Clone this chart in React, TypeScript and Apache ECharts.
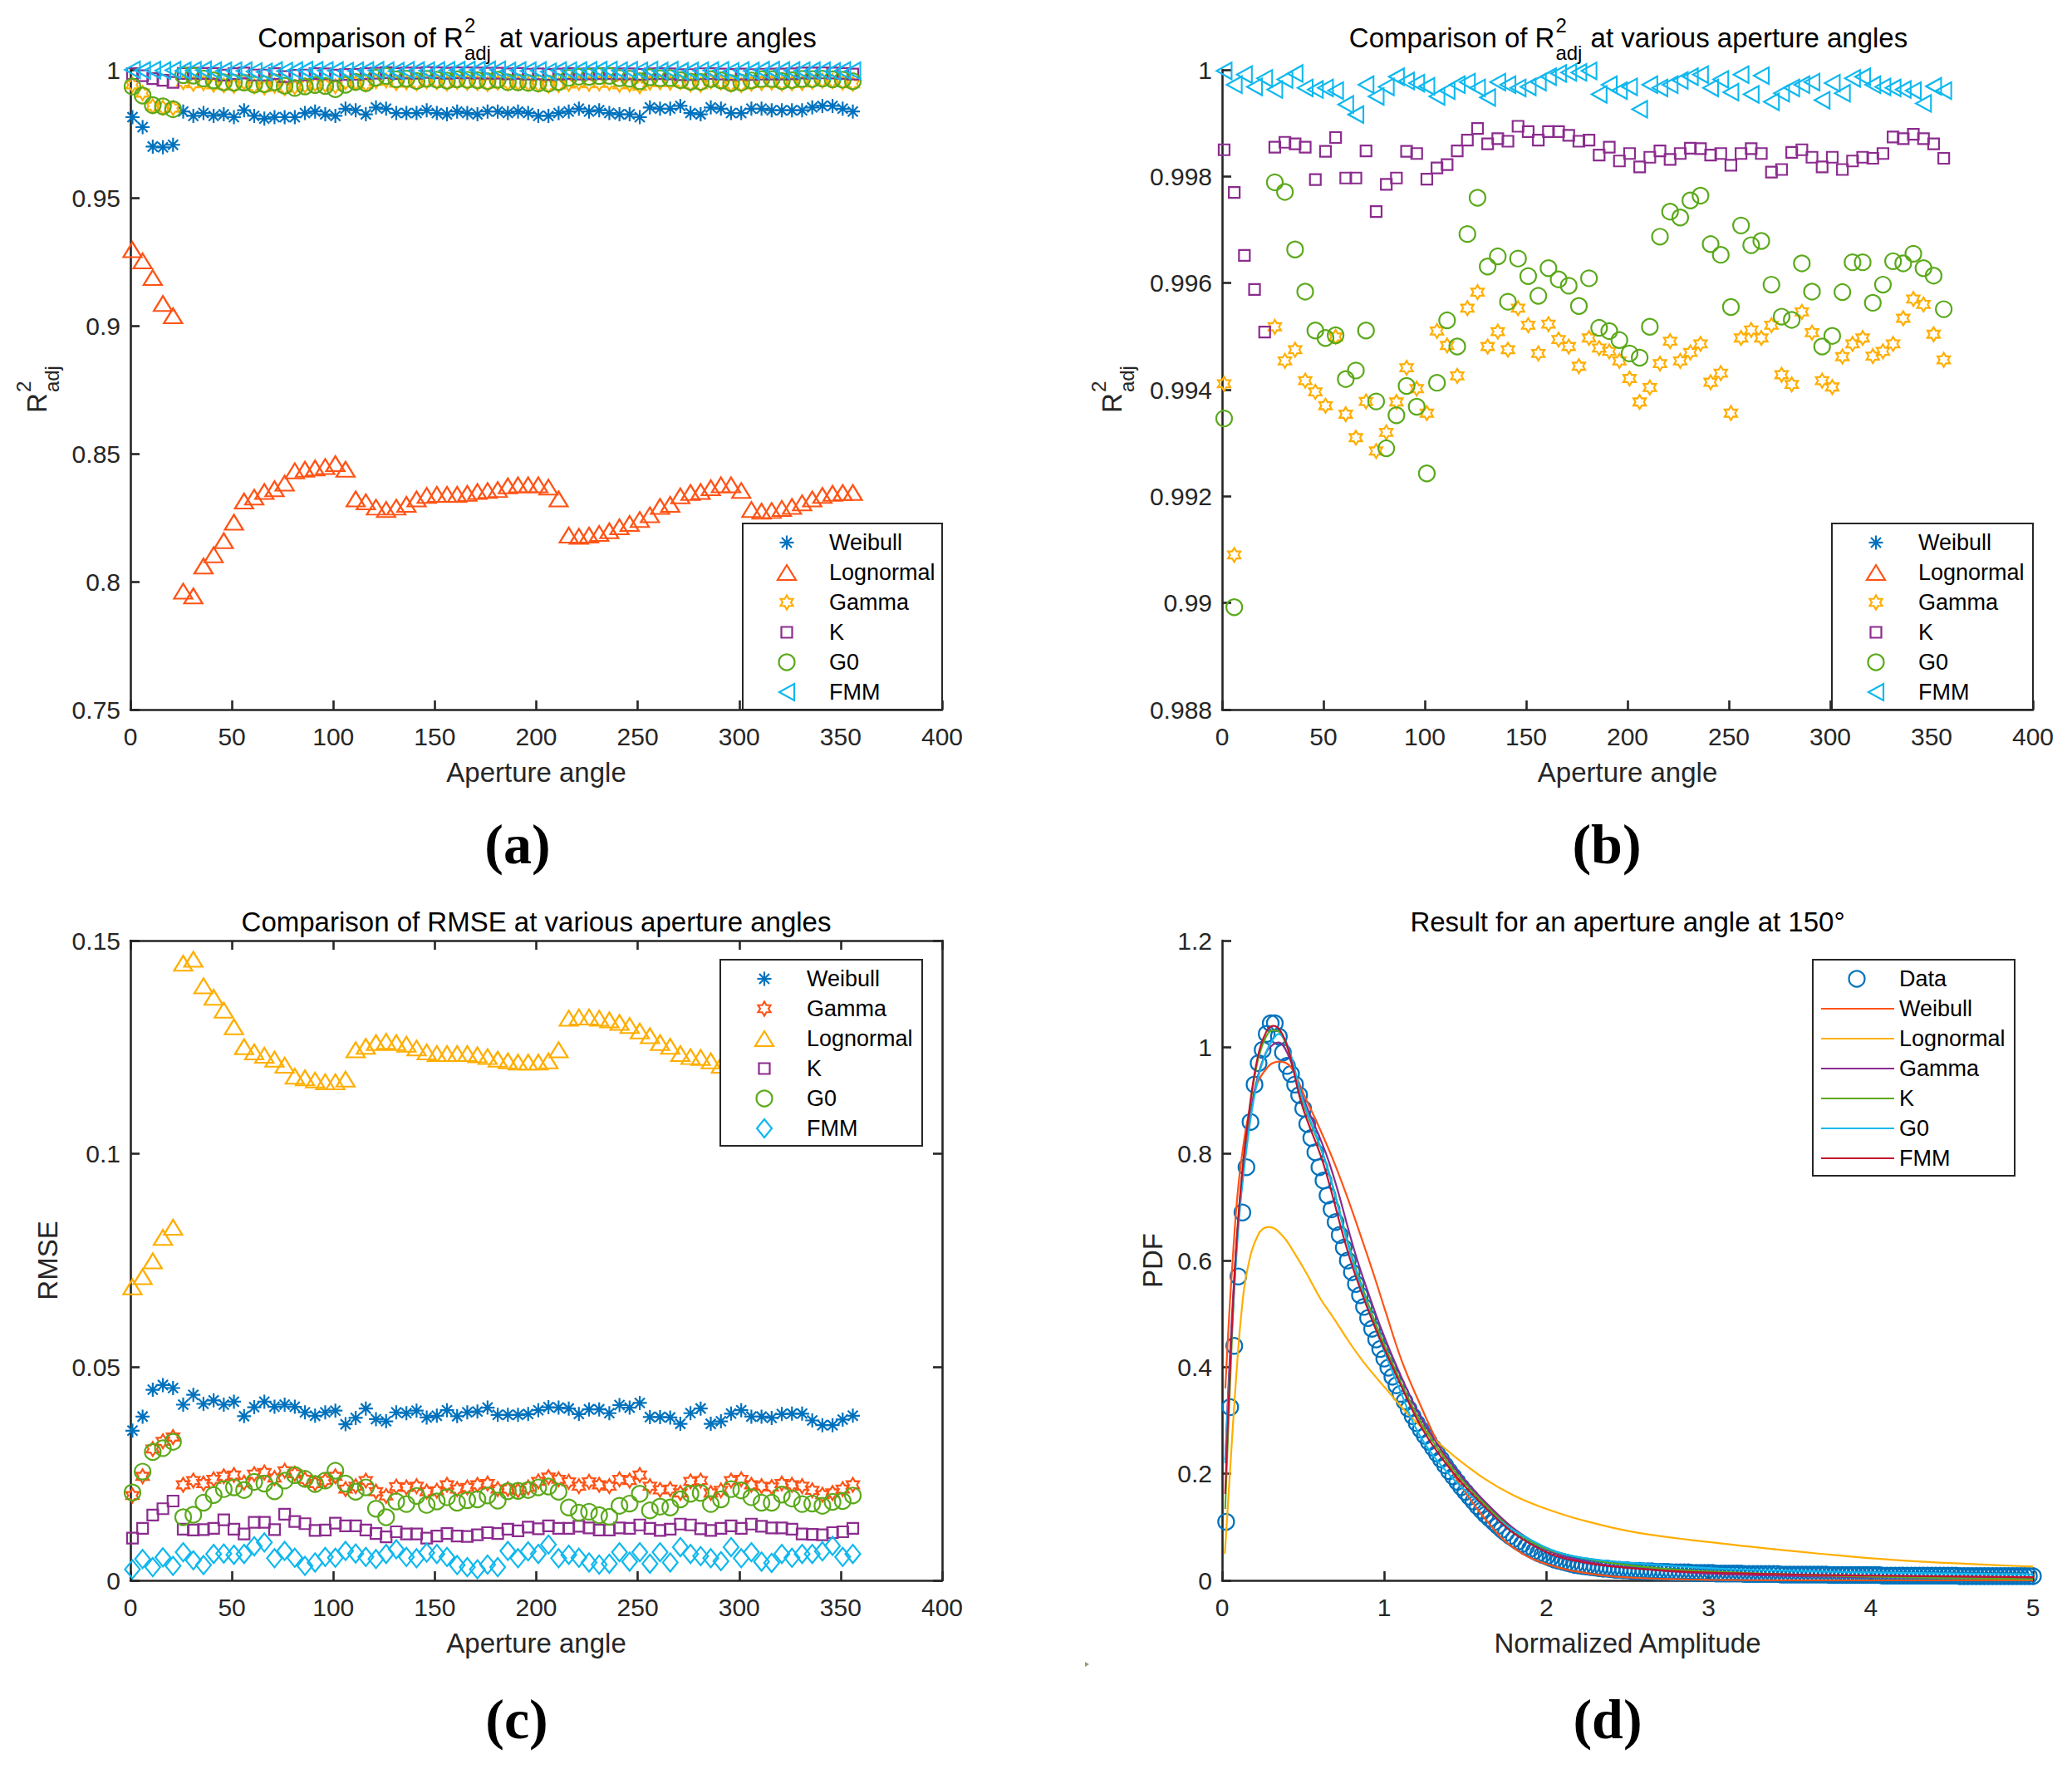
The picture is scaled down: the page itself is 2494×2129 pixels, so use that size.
import React, { useEffect, useRef } from "react";
import * as echarts from "echarts";

const W = 2494;
const H = 2129;
const FONT = '"Liberation Sans", Arial, Helvetica, sans-serif';
const SERIF = '"Liberation Serif", "Times New Roman", serif';
const AX = "#262626";
const C_BLUE = "#0072BD";
const C_ORANGE = "#FF5316";
const C_YELLOW = "#FFAE00";
const C_PURPLE = "#8B2C8E";
const C_GREEN = "#5AA91A";
const C_CYAN = "#10B8EE";
const C_DRED = "#C2132F";

// ---------- data ----------
const angles = [
  1, 6, 11, 16, 21, 26, 31, 36, 41, 46,
  51, 56, 61, 66, 71, 76, 81, 86, 91, 96,
  101, 106, 111, 116, 121, 126, 131, 136, 141, 146,
  151, 156, 161, 166, 171, 176, 181, 186, 191, 196,
  201, 206, 211, 216, 221, 226, 231, 236, 241, 246,
  251, 256, 261, 266, 271, 276, 281, 286, 291, 296,
  301, 306, 311, 316, 321, 326, 331, 336, 341, 346,
  351, 356,
];

// R2adj (panels a and b)
const r2Weibull = [
  0.9815, 0.9776, 0.97, 0.9697, 0.9707, 0.9837, 0.982, 0.9831, 0.982, 0.9826,
  0.9815, 0.9842, 0.982, 0.9809, 0.9815, 0.9815, 0.9815, 0.9831, 0.9837, 0.9826,
  0.982, 0.9848, 0.9842, 0.9826, 0.9853, 0.9848, 0.9831, 0.9831, 0.9831, 0.9842,
  0.9831, 0.9826, 0.9837, 0.9831, 0.9826, 0.9837, 0.9837, 0.9831, 0.9837, 0.9831,
  0.982, 0.982, 0.9831, 0.9837, 0.9848, 0.9837, 0.9842, 0.9831, 0.9826, 0.9826,
  0.9815, 0.9853, 0.9848, 0.9848, 0.9859, 0.9831, 0.9826, 0.9853, 0.9848, 0.9831,
  0.9831, 0.9848, 0.9848, 0.9842, 0.9842, 0.9842, 0.9842, 0.9853, 0.9859, 0.9859,
  0.9848, 0.9837,
];
const r2Lognormal = [
  0.9297, 0.9253, 0.9188, 0.9087, 0.9039, 0.7963, 0.7944, 0.8061, 0.8105, 0.816,
  0.8232, 0.8315, 0.833, 0.8352, 0.8363, 0.8385, 0.8433, 0.8439, 0.8444, 0.845,
  0.8461, 0.8439, 0.8323, 0.8312, 0.8291, 0.8282, 0.8291, 0.8302, 0.8323, 0.8337,
  0.8341, 0.8341, 0.8341, 0.8345, 0.8352, 0.8356, 0.836, 0.8374, 0.8378, 0.8378,
  0.8378, 0.8369, 0.8323, 0.8182, 0.8177, 0.8182, 0.8188, 0.8199, 0.8214, 0.8227,
  0.8243, 0.8261, 0.8294, 0.8302, 0.8335, 0.8348, 0.8352, 0.8367, 0.8378, 0.8378,
  0.8356, 0.8282, 0.8275, 0.8278, 0.8286, 0.8294, 0.8308, 0.8323, 0.8337, 0.8345,
  0.8348, 0.8348,
];
const r2Gamma = [
  0.99411, 0.9909, 0.9858, 0.9852, 0.985, 0.99518, 0.99454, 0.99475, 0.99417, 0.99396,
  0.9937, 0.99499, 0.99354, 0.9931, 0.99378, 0.99285, 0.9932, 0.99377, 0.99441, 0.99402,
  0.99356, 0.9951, 0.99483, 0.99426, 0.99553, 0.99583, 0.99481, 0.99509, 0.99475, 0.99553,
  0.99521, 0.99468, 0.99523, 0.99494, 0.99481, 0.99444, 0.99497, 0.99478, 0.99472, 0.99454,
  0.99421, 0.99377, 0.99404, 0.99449, 0.99491, 0.99454, 0.9947, 0.99486, 0.99414, 0.99431,
  0.99356, 0.99497, 0.99512, 0.99497, 0.99521, 0.99428, 0.9941, 0.99546, 0.99507, 0.99417,
  0.99405, 0.99462, 0.99486, 0.99497, 0.99463, 0.99472, 0.99486, 0.99534, 0.9957, 0.9956,
  0.99504, 0.99456,
];
const r2K = [
  0.9985, 0.9977, 0.99652, 0.99588, 0.99508, 0.99855, 0.99864, 0.99861, 0.99855, 0.99794,
  0.99847, 0.99873, 0.99797, 0.99797, 0.99848, 0.99734, 0.99785, 0.99797, 0.99847, 0.99843,
  0.99795, 0.99816, 0.99822, 0.99848, 0.99868, 0.9989, 0.99861, 0.99871, 0.99866, 0.99894,
  0.99884, 0.99868, 0.99884, 0.99884, 0.99877, 0.99866, 0.99868, 0.9984, 0.99855, 0.99829,
  0.99843, 0.99818, 0.99836, 0.99848, 0.99832, 0.99843, 0.99853, 0.99852, 0.9984, 0.99843,
  0.99821, 0.99843, 0.99852, 0.99843, 0.99808, 0.99813, 0.99845, 0.9985, 0.99836, 0.99818,
  0.99836, 0.99813, 0.99829, 0.99836, 0.99834, 0.99843, 0.99874, 0.99871, 0.99879, 0.99871,
  0.99861, 0.99834,
];
const r2G0 = [
  0.99346, 0.98992, 0.9862, 0.9857, 0.9846, 0.99789, 0.99771, 0.99663, 0.99584, 0.99511,
  0.99497, 0.99502, 0.9942, 0.99436, 0.99511, 0.99378, 0.9929, 0.99352, 0.99407, 0.99368,
  0.99243, 0.99413, 0.9953, 0.99481, 0.99692, 0.9976, 0.99631, 0.9965, 0.99565, 0.99646,
  0.99613, 0.99576, 0.99628, 0.99607, 0.99595, 0.99557, 0.99609, 0.99516, 0.9951, 0.99493,
  0.99468, 0.9946, 0.99518, 0.99687, 0.99734, 0.99723, 0.99755, 0.99764, 0.99673, 0.99653,
  0.99555, 0.99708, 0.99671, 0.99679, 0.99597, 0.99537, 0.99531, 0.99637, 0.99584, 0.99481,
  0.99501, 0.99583, 0.99639, 0.99639, 0.99563, 0.99597, 0.99641, 0.99637, 0.99655, 0.99628,
  0.99614, 0.99551,
];
const r2FMM = [
  0.99998, 0.99972, 0.99991, 0.99968, 0.99984, 0.99963, 0.99982, 0.99993, 0.99966, 0.99963,
  0.99966, 0.99961, 0.99935, 0.99916, 0.99972, 0.9995, 0.99968, 0.99987, 0.99979, 0.99975,
  0.99969, 0.9995, 0.99961, 0.99972, 0.99977, 0.99966, 0.99948, 0.99977, 0.99972, 0.99966,
  0.99968, 0.99977, 0.99987, 0.99993, 0.99995, 0.99995, 0.99998, 0.99954, 0.99972, 0.99961,
  0.99968, 0.99926, 0.99972, 0.99966, 0.99972, 0.9998, 0.99987, 0.99991, 0.99966, 0.99982,
  0.99958, 0.99991, 0.99954, 0.99989, 0.9994, 0.99956, 0.99966, 0.99972, 0.99977, 0.99943,
  0.99975, 0.99956, 0.99984, 0.99987, 0.99972, 0.99968, 0.99966, 0.99963, 0.99961, 0.99937,
  0.99969, 0.99961,
];

// RMSE (panel c)
const rmseWeibull = [
  0.0351, 0.0384, 0.0447, 0.0458, 0.0451, 0.0412, 0.0435, 0.0414, 0.0422, 0.0412,
  0.0419, 0.0385, 0.0406, 0.0419, 0.0407, 0.0412, 0.0407, 0.0394, 0.0386, 0.0394,
  0.0398, 0.0366, 0.0381, 0.0403, 0.0378, 0.0373, 0.0394, 0.0392, 0.0398, 0.0382,
  0.0386, 0.0399, 0.0385, 0.0394, 0.0396, 0.0405, 0.0388, 0.0388, 0.0388, 0.039,
  0.0399, 0.0406, 0.0405, 0.0403, 0.039, 0.0401, 0.0401, 0.0392, 0.0411, 0.0405,
  0.0416, 0.0383, 0.0383, 0.0382, 0.0367, 0.0392, 0.0403, 0.0367, 0.0373, 0.0391,
  0.0399, 0.0384, 0.0384, 0.0381, 0.039, 0.0391, 0.0391, 0.0375, 0.0364, 0.0364,
  0.0377, 0.0386,
];
const rmseGamma = [
  0.0199, 0.0244, 0.0308, 0.0326, 0.0336, 0.0224, 0.0234, 0.0227, 0.0237, 0.0244,
  0.0247, 0.0229, 0.0249, 0.0253, 0.024, 0.0257, 0.025, 0.0237, 0.0227, 0.0234,
  0.0244, 0.0214, 0.0221, 0.0234, 0.0208, 0.0198, 0.022, 0.0218, 0.0221, 0.0208,
  0.021, 0.0224, 0.0214, 0.0218, 0.0224, 0.0227, 0.0214, 0.0214, 0.0211, 0.0218,
  0.0232, 0.0242, 0.0237, 0.0231, 0.0221, 0.0231, 0.0224, 0.0221, 0.0237, 0.0234,
  0.0247, 0.0221, 0.0212, 0.0214, 0.0205, 0.0232, 0.0234, 0.0205, 0.0211, 0.0234,
  0.0237, 0.0224, 0.0221, 0.0219, 0.0227, 0.0224, 0.0221, 0.0211, 0.0201, 0.0205,
  0.0214, 0.0224,
];
const rmseLognormal = [
  0.0688, 0.0712, 0.0749, 0.0804, 0.0828, 0.1447, 0.1456, 0.1394, 0.1367, 0.1337,
  0.1298, 0.1251, 0.1239, 0.1231, 0.1222, 0.1208, 0.1182, 0.1178, 0.1173, 0.1169,
  0.1169, 0.1175, 0.1244, 0.1252, 0.1261, 0.1264, 0.1261, 0.1257, 0.1248, 0.1239,
  0.1235, 0.1235, 0.1235, 0.1235, 0.1232, 0.1228, 0.1222, 0.1218, 0.1215, 0.1215,
  0.1215, 0.1218, 0.1244, 0.1318, 0.1321, 0.1321, 0.1318, 0.1314, 0.1308, 0.1301,
  0.1288, 0.1277, 0.1261, 0.1252, 0.1235, 0.1228, 0.1226, 0.1218, 0.1208, 0.1203,
  0.121, 0.128, 0.1285, 0.128, 0.127, 0.1265, 0.1255, 0.1245, 0.1235, 0.123,
  0.1228, 0.1228,
];
const rmseK = [
  0.0099, 0.0122, 0.0153, 0.0168, 0.0186, 0.012, 0.0118, 0.0119, 0.0122, 0.0142,
  0.012, 0.0109, 0.0136, 0.0136, 0.0119, 0.0155, 0.0138, 0.0133, 0.0117, 0.0118,
  0.0134, 0.0128, 0.0128, 0.0118, 0.011, 0.0102, 0.0114, 0.0109, 0.0109, 0.0099,
  0.0104, 0.011, 0.0104, 0.0103, 0.0107, 0.0112, 0.011, 0.012, 0.0116, 0.0125,
  0.0121, 0.0128, 0.0122, 0.0122, 0.0127, 0.0123, 0.0118, 0.0118, 0.0123, 0.0122,
  0.013, 0.0122, 0.0117, 0.012, 0.0132, 0.013, 0.0121, 0.0117, 0.0122, 0.0128,
  0.0122, 0.0132, 0.0127, 0.0123, 0.0123, 0.012, 0.0109, 0.0108, 0.0107, 0.0112,
  0.0114, 0.0122,
];
const rmseG0 = [
  0.0206, 0.0255, 0.0301, 0.031, 0.0325, 0.0148, 0.0154, 0.0182, 0.02, 0.0214,
  0.0218, 0.0212, 0.0231, 0.0227, 0.0209, 0.0234, 0.0247, 0.0238, 0.0226, 0.0234,
  0.0257, 0.0227, 0.0208, 0.0218, 0.0168, 0.0148, 0.0185, 0.0179, 0.0198, 0.0177,
  0.0185, 0.0195, 0.0182, 0.0188, 0.019, 0.0199, 0.0187, 0.0209, 0.021, 0.0212,
  0.0218, 0.022, 0.0208, 0.0171, 0.0159, 0.0161, 0.0153, 0.0149, 0.0175, 0.018,
  0.0203, 0.0164, 0.0173, 0.0171, 0.019, 0.0203, 0.0205, 0.0179, 0.019, 0.0214,
  0.0211, 0.0195, 0.0182, 0.0182, 0.0201, 0.0192, 0.0179, 0.018, 0.0175, 0.0184,
  0.0186, 0.0199,
];
const rmseFMM = [
  0.0026, 0.005, 0.0031, 0.0054, 0.0034, 0.0066, 0.0047, 0.0036, 0.0062, 0.0063,
  0.006, 0.0062, 0.008, 0.0089, 0.0052, 0.0069, 0.0053, 0.0034, 0.0042, 0.0055,
  0.0053, 0.0069, 0.0063, 0.0055, 0.005, 0.0062, 0.0073, 0.0055, 0.0052, 0.0065,
  0.0062, 0.0055, 0.0036, 0.0031, 0.0026, 0.0037, 0.0031, 0.0069, 0.0052, 0.0068,
  0.0062, 0.0084, 0.0052, 0.006, 0.0053, 0.0042, 0.0037, 0.0039, 0.0066, 0.0044,
  0.0066, 0.0039, 0.0066, 0.0042, 0.0078, 0.0062, 0.0057, 0.0052, 0.0045, 0.0078,
  0.0052, 0.0066, 0.0044, 0.0041, 0.0062, 0.0053, 0.0062, 0.0062, 0.0068, 0.0081,
  0.0055, 0.0062,
];

// PDF (panel d)
const pdfX = [
  0.025, 0.05, 0.075, 0.1, 0.125, 0.15, 0.175, 0.2, 0.225, 0.25,
  0.275, 0.3, 0.325, 0.35, 0.375, 0.4, 0.425, 0.45, 0.475, 0.5,
  0.525, 0.55, 0.575, 0.6, 0.625, 0.65, 0.675, 0.7, 0.725, 0.75,
  0.775, 0.8, 0.825, 0.85, 0.875, 0.9, 0.925, 0.95, 0.975, 1.0,
  1.025, 1.05, 1.075, 1.1, 1.125, 1.15, 1.175, 1.2, 1.225, 1.25,
  1.275, 1.3, 1.325, 1.35, 1.375, 1.4, 1.425, 1.45, 1.475, 1.5,
  1.525, 1.55, 1.575, 1.6, 1.625, 1.65, 1.675, 1.7, 1.725, 1.75,
  1.775, 1.8, 1.825, 1.85, 1.875, 1.9, 1.925, 1.95, 1.975, 2.0,
  2.025, 2.05, 2.075, 2.1, 2.125, 2.15, 2.175, 2.2, 2.225, 2.25,
  2.275, 2.3, 2.325, 2.35, 2.375, 2.4, 2.425, 2.45, 2.475, 2.5,
  2.525, 2.55, 2.575, 2.6, 2.625, 2.65, 2.675, 2.7, 2.725, 2.75,
  2.775, 2.8, 2.825, 2.85, 2.875, 2.9, 2.925, 2.95, 2.975, 3.0,
  3.025, 3.05, 3.075, 3.1, 3.125, 3.15, 3.175, 3.2, 3.225, 3.25,
  3.275, 3.3, 3.325, 3.35, 3.375, 3.4, 3.425, 3.45, 3.475, 3.5,
  3.525, 3.55, 3.575, 3.6, 3.625, 3.65, 3.675, 3.7, 3.725, 3.75,
  3.775, 3.8, 3.825, 3.85, 3.875, 3.9, 3.925, 3.95, 3.975, 4.0,
  4.025, 4.05, 4.075, 4.1, 4.125, 4.15, 4.175, 4.2, 4.225, 4.25,
  4.275, 4.3, 4.325, 4.35, 4.375, 4.4, 4.425, 4.45, 4.475, 4.5,
  4.525, 4.55, 4.575, 4.6, 4.625, 4.65, 4.675, 4.7, 4.725, 4.75,
  4.775, 4.8, 4.825, 4.85, 4.875, 4.9, 4.925, 4.95, 4.975, 5.0,
];
const pdfData = [
  0.11, 0.325, 0.44, 0.57, 0.69, 0.775, 0.86, 0.93, 0.97, 0.995,
  1.025, 1.045, 1.045, 1.02, 0.99, 0.965, 0.95, 0.93, 0.91, 0.885,
  0.856, 0.83, 0.803, 0.775, 0.75, 0.722, 0.696, 0.672, 0.648, 0.624,
  0.6, 0.578, 0.556, 0.535, 0.513, 0.492, 0.472, 0.452, 0.434, 0.416,
  0.399, 0.382, 0.366, 0.35, 0.336, 0.322, 0.308, 0.295, 0.283, 0.271,
  0.26, 0.249, 0.238, 0.227, 0.216, 0.205, 0.195, 0.185, 0.175, 0.166,
  0.157, 0.148, 0.139, 0.131, 0.123, 0.116, 0.109, 0.102, 0.095, 0.089,
  0.083, 0.078, 0.073, 0.068, 0.063, 0.059, 0.055, 0.051, 0.048, 0.045,
  0.042, 0.039, 0.037, 0.035, 0.033, 0.031, 0.029, 0.028, 0.027, 0.026,
  0.025, 0.024, 0.023, 0.022, 0.022, 0.021, 0.02, 0.02, 0.019, 0.019,
  0.018, 0.018, 0.018, 0.017, 0.017, 0.017, 0.016, 0.016, 0.016, 0.016,
  0.015, 0.015, 0.015, 0.015, 0.015, 0.014, 0.014, 0.014, 0.014, 0.014,
  0.014, 0.013, 0.013, 0.013, 0.013, 0.013, 0.013, 0.013, 0.012, 0.012,
  0.012, 0.012, 0.012, 0.012, 0.012, 0.012, 0.012, 0.011, 0.011, 0.011,
  0.011, 0.011, 0.011, 0.011, 0.011, 0.011, 0.011, 0.011, 0.011, 0.01,
  0.01, 0.01, 0.01, 0.01, 0.01, 0.01, 0.01, 0.01, 0.01, 0.01,
  0.01, 0.01, 0.009, 0.009, 0.009, 0.009, 0.009, 0.009, 0.009, 0.009,
  0.009, 0.009, 0.009, 0.009, 0.009, 0.009, 0.009, 0.009, 0.009, 0.009,
  0.009, 0.008, 0.008, 0.008, 0.008, 0.008, 0.008, 0.008, 0.008, 0.008,
  0.008, 0.008, 0.008, 0.008, 0.008, 0.008, 0.008, 0.008, 0.008, 0.008,
];
const fitWeibull = [
  [0.02, 0.36], [0.065, 0.6], [0.117, 0.784], [0.202, 0.919], [0.288, 0.965],
  [0.359, 0.973], [0.425, 0.962], [0.512, 0.906], [0.598, 0.85], [0.683, 0.79],
  [0.768, 0.722], [0.854, 0.647], [0.939, 0.57], [1.007, 0.505], [1.11, 0.41],
  [1.221, 0.33], [1.323, 0.262], [1.452, 0.187], [1.639, 0.109], [1.793, 0.062],
  [1.998, 0.031], [2.305, 0.011], [2.6, 0.004], [3.0, 0.001], [3.5, 0.0002],
  [4.2, 0], [5, 0],
];
const fitLognormal = [
  [0.017, 0.05], [0.048, 0.2], [0.082, 0.36], [0.117, 0.495], [0.154, 0.58],
  [0.222, 0.648], [0.29, 0.663], [0.37, 0.647], [0.45, 0.612], [0.522, 0.575],
  [0.607, 0.528], [0.692, 0.49], [0.777, 0.45], [0.861, 0.414], [0.946, 0.382],
  [1.031, 0.352], [1.116, 0.322], [1.2, 0.296], [1.298, 0.268], [1.451, 0.228],
  [1.622, 0.19], [1.793, 0.16], [1.964, 0.138], [2.22, 0.113], [2.561, 0.0895],
  [3.15, 0.0668], [3.64, 0.0514], [4.14, 0.0384], [5.0, 0.026],
];
const fitGamma = [
  [0.019, 0.226], [0.048, 0.42], [0.082, 0.6], [0.117, 0.73], [0.168, 0.86],
  [0.22, 0.945], [0.271, 0.99], [0.314, 1.005], [0.348, 1.009], [0.408, 0.985],
  [0.494, 0.91], [0.661, 0.783], [0.861, 0.575], [1.125, 0.368], [1.354, 0.244],
  [1.662, 0.135], [1.91, 0.074], [2.157, 0.041], [2.65, 0.02], [3.15, 0.011],
  [4.0, 0.006], [5.0, 0.004],
];
const fitK = [
  [0.019, 0.134], [0.048, 0.36], [0.082, 0.59], [0.117, 0.74], [0.168, 0.88],
  [0.22, 0.975], [0.271, 1.02], [0.314, 1.032], [0.357, 1.027], [0.408, 0.995],
  [0.494, 0.9], [0.64, 0.783], [0.836, 0.575], [1.108, 0.368], [1.337, 0.244],
  [1.662, 0.13], [1.91, 0.072], [2.157, 0.046], [2.65, 0.024], [3.15, 0.015],
  [4.0, 0.007], [5.0, 0.002],
];
const fitG0 = [
  [0.019, 0.22], [0.048, 0.4], [0.082, 0.58], [0.117, 0.72], [0.168, 0.85],
  [0.22, 0.94], [0.271, 0.99], [0.314, 1.015], [0.348, 1.025], [0.408, 1.0],
  [0.494, 0.905], [0.64, 0.783], [0.83, 0.575], [1.082, 0.368], [1.278, 0.244],
  [1.662, 0.125], [1.91, 0.075], [2.157, 0.046], [2.65, 0.03], [3.15, 0.021],
  [4.0, 0.015], [5.0, 0.011],
];
const fitFMM = [
  [0.019, 0.162], [0.048, 0.389], [0.082, 0.6], [0.117, 0.742], [0.168, 0.883],
  [0.22, 0.982], [0.271, 1.028], [0.314, 1.04], [0.357, 1.032], [0.408, 0.996],
  [0.494, 0.89], [0.623, 0.783], [0.819, 0.575], [1.099, 0.368], [1.32, 0.244],
  [1.662, 0.125], [1.91, 0.067], [2.157, 0.038], [2.65, 0.02], [3.15, 0.0135],
  [4.0, 0.009], [5.0, 0.006],
];

// tick settings
const angleTicks = { min: 0, max: 400, interval: 50 };
const r2aTicks = { min: 0.75, max: 1, interval: 0.05 };
const r2bTicks = { min: 0.988, max: 1, interval: 0.002 };
const rmseTicks = { min: 0, max: 0.15, interval: 0.05 };
const ampTicks = { min: 0, max: 5, interval: 1 };
const pdfTicks = { min: 0, max: 1.2, interval: 0.2 };

// ---------- styles ----------
const SYM_STAR = "path://M0,-10L0,10M-10,0L10,0M-7.07,-7.07L7.07,7.07M-7.07,7.07L7.07,-7.07";
const SYM_HEX =
  "path://M0,-10L-2.887,-5L-8.66,-5L-5.774,0L-8.66,5L-2.887,5L0,10L2.887,5L8.66,5L5.774,0L8.66,-5L2.887,-5Z";
const SYM_LTRI = "path://M0,10L20,0L20,20Z";
const HEX_PTS = [
  [0, -10], [-2.887, -5], [-8.66, -5], [-5.774, 0], [-8.66, 5], [-2.887, 5],
  [0, 10], [2.887, 5], [8.66, 5], [5.774, 0], [8.66, -5], [2.887, -5],
];

const MK: Record<string, { symbol: string; size: any }> = {
  star: { symbol: SYM_STAR, size: 17 },
  tri: { symbol: "triangle", size: [22, 18] },
  hex: { symbol: SYM_HEX, size: [15, 17] },
  sq: { symbol: "rect", size: 13 },
  circ: { symbol: "circle", size: 19 },
  ltri: { symbol: SYM_LTRI, size: [18, 20] },
  dia: { symbol: "diamond", size: [18, 22] },
};
const MW = 2.2;

const GRIDS = [
  { left: 157, top: 84, width: 977, height: 770 },
  { left: 1471, top: 84, width: 976, height: 770 },
  { left: 157, top: 1132, width: 977, height: 770 },
  { left: 1471, top: 1132, width: 976, height: 770 },
];

function axis(gridIndex: number, ticks: any, extra: any = {}) {
  return {
    type: "value",
    gridIndex,
    min: ticks.min,
    max: ticks.max,
    interval: ticks.interval,
    axisLine: { show: true, onZero: false, lineStyle: { color: AX, width: 2.6 } },
    axisTick: { show: true, inside: true, length: 11, lineStyle: { color: AX, width: 2.6 } },
    axisLabel: { show: true, color: AX, fontSize: 30, fontFamily: FONT },
    splitLine: { show: false },
    ...extra,
  };
}

function sc(name: string, xi: number, data: number[], mk: string, color: string) {
  return {
    type: "scatter",
    name,
    xAxisIndex: xi,
    yAxisIndex: xi,
    data: angles.map((a, i) => [a, data[i]]),
    symbol: MK[mk].symbol,
    symbolSize: MK[mk].size,
    itemStyle: { color: "rgba(0,0,0,0)", borderColor: color, borderWidth: MW, opacity: 1 },
    emphasis: { disabled: true },
    silent: true,
    clip: true,
  };
}

function ln(name: string, data: number[][], color: string) {
  return {
    type: "line",
    name,
    xAxisIndex: 3,
    yAxisIndex: 3,
    data,
    showSymbol: false,
    symbol: "none",
    smooth: 0.4,
    lineStyle: { color, width: 2.2 },
    emphasis: { disabled: true },
    silent: true,
    clip: true,
    z: 3,
  };
}

// ---------- graphic helpers ----------
let _ctx: CanvasRenderingContext2D | null = null;
function tw(s: string, size: number, weight = "normal", fam = FONT) {
  if (!_ctx) _ctx = document.createElement("canvas").getContext("2d");
  if (!_ctx) return s.length * size * 0.55;
  _ctx.font = `${weight} ${size}px ${fam}`;
  return _ctx.measureText(s).width;
}

function txt(text: string, x: number, y: number, size: number, opts: any = {}) {
  const align = opts.align || "center";
  return {
    type: "text",
    z: 101,
    x,
    y,
    rotation: opts.rotation || 0,
    style: {
      text,
      fontSize: size,
      fontFamily: opts.family || FONT,
      fontWeight: opts.weight || "normal",
      fill: opts.color || "#000",
      align,
      textAlign: align,
      verticalAlign: "middle",
      textVerticalAlign: "middle",
    },
  };
}

function r2Pieces(before: string, after: string, color: string) {
  const main = 33;
  const small = 24;
  const w1 = tw(before, main);
  const ws = Math.max(tw("2", small), tw("adj", small));
  const w2 = tw(after, main);
  const total = w1 + ws + w2;
  const x0 = -total / 2;
  return [
    txt(before, x0, 0, main, { align: "left", color }),
    txt("2", x0 + w1 + 1, -15.4, small, { align: "left", color }),
    txt("adj", x0 + w1 + 1, 18.2, small, { align: "left", color }),
    txt(after, x0 + w1 + ws + 2, 0, main, { align: "left", color }),
  ];
}

function markerEls(type: string, cx: number, cy: number, color: string): any[] {
  const st = { fill: "none", stroke: color, lineWidth: MW };
  if (type === "star") {
    const r = 8.5;
    const d = r * 0.7071;
    return [
      [0, -r, 0, r],
      [-r, 0, r, 0],
      [-d, -d, d, d],
      [-d, d, d, -d],
    ].map(([x1, y1, x2, y2]) => ({
      type: "line",
      z: 102,
      shape: { x1: cx + x1, y1: cy + y1, x2: cx + x2, y2: cy + y2 },
      style: { stroke: color, lineWidth: MW },
    }));
  }
  if (type === "tri")
    return [{ type: "polygon", z: 102, shape: { points: [[cx, cy - 9], [cx + 11, cy + 9], [cx - 11, cy + 9]] }, style: st }];
  if (type === "hex")
    return [
      {
        type: "polygon",
        z: 102,
        shape: { points: HEX_PTS.map(([x, y]) => [cx + (x * 15) / 17.32, cy + (y * 17) / 20]) },
        style: st,
      },
    ];
  if (type === "sq") return [{ type: "rect", z: 102, shape: { x: cx - 6.5, y: cy - 6.5, width: 13, height: 13 }, style: st }];
  if (type === "circ") return [{ type: "circle", z: 102, shape: { cx, cy, r: 9.5 }, style: st }];
  if (type === "ltri")
    return [{ type: "polygon", z: 102, shape: { points: [[cx - 9, cy], [cx + 9, cy - 10], [cx + 9, cy + 10]] }, style: st }];
  if (type === "dia")
    return [{ type: "polygon", z: 102, shape: { points: [[cx, cy - 11], [cx + 9, cy], [cx, cy + 11], [cx - 9, cy]] }, style: st }];
  return [];
}

function legendBox(left: number, top: number, width: number, entries: [string, string, string][]) {
  const n = entries.length;
  const h = 23 + (n - 1) * 36 + 21;
  const els: any[] = [
    { type: "rect", z: 100, shape: { x: left, y: top, width, height: h }, style: { fill: "#fff", stroke: AX, lineWidth: 2 } },
  ];
  entries.forEach(([label, kind, color], i) => {
    const cy = top + 23 + i * 36;
    if (kind === "line") {
      els.push({
        type: "line",
        z: 102,
        shape: { x1: left + 10, y1: cy, x2: left + 98, y2: cy },
        style: { stroke: color, lineWidth: 2.2 },
      });
    } else {
      els.push(...markerEls(kind, left + 53, cy, color));
    }
    els.push(txt(label, left + 104, cy, 27, { align: "left", color: "#000" }));
  });
  return els;
}

function buildOption() {
  const xLab = { color: AX, fontSize: 30, fontFamily: FONT, margin: 17 };
  const xAxis = [
    axis(0, angleTicks, { axisLabel: xLab }),
    axis(1, angleTicks, { axisLabel: xLab }),
    axis(2, angleTicks, { axisLabel: xLab }),
    axis(3, ampTicks, { axisLabel: xLab }),
    axis(2, angleTicks, { position: "top", axisLabel: { show: false } }),
  ];
  const yLab = { color: AX, fontSize: 30, fontFamily: FONT, margin: 12 };
  const yAxis = [
    axis(0, r2aTicks, { axisLabel: yLab }),
    axis(1, r2bTicks, { axisLabel: yLab }),
    axis(2, rmseTicks, { axisLabel: yLab }),
    axis(3, pdfTicks, { axisLabel: yLab }),
    axis(2, rmseTicks, { position: "right", axisLabel: { show: false } }),
  ];

  const series: any[] = [
    // (a)
    sc("Weibull", 0, r2Weibull, "star", C_BLUE),
    sc("Lognormal", 0, r2Lognormal, "tri", C_ORANGE),
    sc("Gamma", 0, r2Gamma, "hex", C_YELLOW),
    sc("K", 0, r2K, "sq", C_PURPLE),
    sc("G0", 0, r2G0, "circ", C_GREEN),
    sc("FMM", 0, r2FMM, "ltri", C_CYAN),
    // (b)
    sc("Weibull", 1, r2Weibull, "star", C_BLUE),
    sc("Lognormal", 1, r2Lognormal, "tri", C_ORANGE),
    sc("Gamma", 1, r2Gamma, "hex", C_YELLOW),
    sc("K", 1, r2K, "sq", C_PURPLE),
    sc("G0", 1, r2G0, "circ", C_GREEN),
    sc("FMM", 1, r2FMM, "ltri", C_CYAN),
    // (c)
    sc("Weibull", 2, rmseWeibull, "star", C_BLUE),
    sc("Gamma", 2, rmseGamma, "hex", C_ORANGE),
    sc("Lognormal", 2, rmseLognormal, "tri", C_YELLOW),
    sc("K", 2, rmseK, "sq", C_PURPLE),
    sc("G0", 2, rmseG0, "circ", C_GREEN),
    sc("FMM", 2, rmseFMM, "dia", C_CYAN),
    // (d)
    {
      type: "scatter",
      name: "Data",
      xAxisIndex: 3,
      yAxisIndex: 3,
      data: pdfX.map((x, i) => [x, pdfData[i]]),
      symbol: "circle",
      symbolSize: 19,
      itemStyle: { color: "rgba(0,0,0,0)", borderColor: C_BLUE, borderWidth: 2.3, opacity: 1 },
      emphasis: { disabled: true },
      silent: true,
      clip: false,
    },
    ln("Weibull", fitWeibull, C_ORANGE),
    ln("Lognormal", fitLognormal, C_YELLOW),
    ln("Gamma", fitGamma, C_PURPLE),
    ln("K", fitK, C_GREEN),
    ln("G0", fitG0, C_CYAN),
    ln("FMM", fitFMM, C_DRED),
  ];

  const els: any[] = [];
  // titles
  els.push({ type: "group", x: 645.5, y: 45.7, children: r2Pieces("Comparison of R", " at various aperture angles", "#000") });
  els.push({ type: "group", x: 1959, y: 45.7, children: r2Pieces("Comparison of R", " at various aperture angles", "#000") });
  els.push(txt("Comparison of RMSE at various aperture angles", 645.5, 1109, 33));
  els.push(txt("Result for an aperture angle at 150\u00B0", 1959, 1109, 33));
  // x-axis names
  els.push(txt("Aperture angle", 645.5, 929, 33, { color: AX }));
  els.push(txt("Aperture angle", 1959, 929, 33, { color: AX }));
  els.push(txt("Aperture angle", 645.5, 1977, 33, { color: AX }));
  els.push(txt("Normalized Amplitude", 1959, 1977, 33, { color: AX }));
  // y-axis names
  els.push({ type: "group", x: 44, y: 469, rotation: Math.PI / 2, children: r2Pieces("R", "", AX) });
  els.push({ type: "group", x: 1338, y: 469, rotation: Math.PI / 2, children: r2Pieces("R", "", AX) });
  els.push(txt("RMSE", 57.6, 1517, 33, { color: AX, rotation: Math.PI / 2 }));
  els.push(txt("PDF", 1387, 1517, 33, { color: AX, rotation: Math.PI / 2 }));
  // legends
  const legAB: [string, string, string][] = [
    ["Weibull", "star", C_BLUE],
    ["Lognormal", "tri", C_ORANGE],
    ["Gamma", "hex", C_YELLOW],
    ["K", "sq", C_PURPLE],
    ["G0", "circ", C_GREEN],
    ["FMM", "ltri", C_CYAN],
  ];
  els.push(...legendBox(894, 630, 240, legAB));
  els.push(...legendBox(2205, 630, 242, legAB));
  els.push(
    ...legendBox(867, 1155, 243, [
      ["Weibull", "star", C_BLUE],
      ["Gamma", "hex", C_ORANGE],
      ["Lognormal", "tri", C_YELLOW],
      ["K", "sq", C_PURPLE],
      ["G0", "circ", C_GREEN],
      ["FMM", "dia", C_CYAN],
    ])
  );
  els.push(
    ...legendBox(2182, 1155, 243, [
      ["Data", "circ", C_BLUE],
      ["Weibull", "line", C_ORANGE],
      ["Lognormal", "line", C_YELLOW],
      ["Gamma", "line", C_PURPLE],
      ["K", "line", C_GREEN],
      ["G0", "line", C_CYAN],
      ["FMM", "line", C_DRED],
    ])
  );
  // panel labels
  els.push(txt("(a)", 623, 1016, 68, { family: SERIF, weight: "bold" }));
  els.push(txt("(b)", 1934, 1016, 68, { family: SERIF, weight: "bold" }));
  els.push(txt("(c)", 622, 2069, 68, { family: SERIF, weight: "bold" }));
  els.push(txt("(d)", 1935, 2069, 68, { family: SERIF, weight: "bold" }));
  // small stray mark
  els.push({ type: "polygon", z: 101, shape: { points: [[1306, 2000], [1311, 2003], [1306, 2006]] }, style: { fill: "#9a9a78" } });

  return {
    animation: false,
    backgroundColor: "#ffffff",
    grid: GRIDS.map((g) => ({ ...g, containLabel: false })),
    xAxis,
    yAxis,
    series,
    graphic: { elements: els },
  };
}

export default function App() {
  const ref = useRef<HTMLDivElement>(null);
  useEffect(() => {
    document.body.style.margin = "0";
    if (!ref.current) return;
    const chart = echarts.init(ref.current, null, { renderer: "svg", width: W, height: H });
    chart.setOption(buildOption() as any);
    return () => chart.dispose();
  }, []);
  return (
    <div
      ref={ref}
      style={{ position: "absolute", left: 0, top: 0, width: W, height: H, background: "#fff" }}
    />
  );
}
